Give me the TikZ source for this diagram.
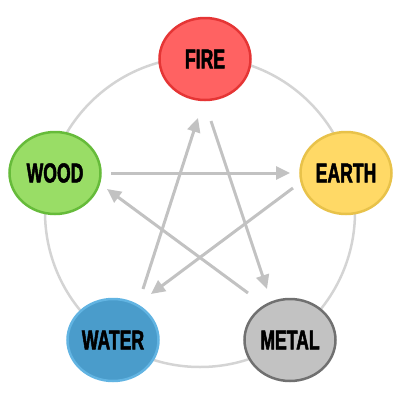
\documentclass[tikz,border=0pt]{standalone}
\usepackage{fontspec}
\newfontfamily\labfont[FakeStretch=0.64,FakeBold=1.8]{Liberation Sans Bold}
\usetikzlibrary{shapes.geometric,arrows.meta}
\definecolor{firefill}{HTML}{FF6262}
\definecolor{fireline}{HTML}{E53535}
\definecolor{woodfill}{HTML}{99DD66}
\definecolor{woodline}{HTML}{66BB3A}
\definecolor{earthfill}{HTML}{FFD966}
\definecolor{earthline}{HTML}{E8C24A}
\definecolor{waterfill}{HTML}{4A9CCB}
\definecolor{waterline}{HTML}{62B4E2}
\definecolor{metalfill}{HTML}{C2C2C2}
\definecolor{metalline}{HTML}{707070}
\definecolor{ringcol}{HTML}{D4D4D4}
\definecolor{arrcol}{HTML}{C2C2C2}
\tikzset{
  elem/.style={ellipse, minimum width=91pt, minimum height=82pt, inner sep=0pt,
    line width=2.5pt, font=\labfont\fontsize{27.5}{27.5}\selectfont, text=black},
  arr/.style={draw=arrcol, line width=3pt, -{Triangle[length=14pt,width=13pt]}},
  ring/.style={draw=ringcol, line width=2.5pt}
}
\begin{document}
\begin{tikzpicture}[x=1pt,y=1pt]
\useasboundingbox (0,0) rectangle (400,-400);
\node[ring, circle, minimum size=310pt, inner sep=0pt] (ring) at (200,-212) {};
\node[elem, fill=firefill, draw=fireline] (fire) at (205,-59) {FIRE};
\node[elem, fill=woodfill, draw=woodline] (wood) at (55,-173) {WOOD};
\node[elem, fill=earthfill, draw=earthline] (earth) at (346,-173) {EARTH};
\node[elem, fill=waterfill, draw=waterline] (water) at (113,-340) {WATER};
\node[elem, fill=metalfill, draw=metalline] (metal) at (290,-340) {METAL};
\draw[arr] ([shift={(56,0)}]wood.center) -- ([shift={(-56,0)}]earth.center);
\draw[arr] ([shift={(-53,-15)}]earth.center) -- ([shift={(38,46)}]water.center);
\draw[arr] ([shift={(30,51)}]water.center) -- ([shift={(-7,-59)}]fire.center);
\draw[arr] ([shift={(6,-62)}]fire.center) -- ([shift={(-23,51)}]metal.center);
\draw[arr] ([shift={(-42,47)}]metal.center) -- ([shift={(52,-16)}]wood.center);
\end{tikzpicture}
\end{document}
